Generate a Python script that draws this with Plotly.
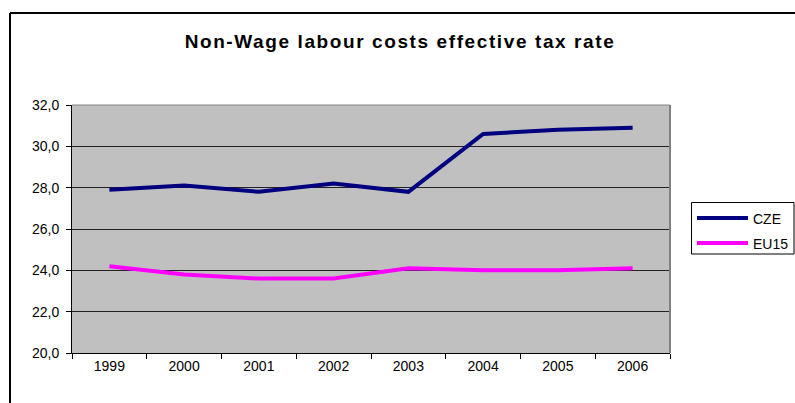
import plotly.graph_objects as go

# Non-wage labour costs: effective tax rate (%)
years = ["1999", "2000", "2001", "2002", "2003", "2004", "2005", "2006"]
cze = [27.9, 28.1, 27.8, 28.2, 27.8, 30.6, 30.8, 30.9]
eu15 = [24.2, 23.8, 23.6, 23.6, 24.1, 24.0, 24.0, 24.1]
y_ticks = [20, 22, 24, 26, 28, 30, 32]
series_names = ["CZE", "EU15"]
series_colors = ["#000080", "#FF00FF"]

W, H = 795, 403
L, R, T, B = 72, 125, 105, 50
pw, ph = W - L - R, H - T - B


def px_x(p):
    return (p - L) / pw


def px_y(p):
    return (H - B - p) / ph


FONT = "Liberation Sans, Arial, sans-serif"

fig = go.Figure()
for name, vals, col in zip(series_names, [cze, eu15], series_colors):
    fig.add_trace(go.Scatter(x=years, y=vals, name=name, mode="lines",
                             line=dict(color=col, width=4), showlegend=False))

fig.update_layout(
    width=W, height=H,
    margin=dict(l=L, r=R, t=T, b=B, pad=0),
    paper_bgcolor="white",
    plot_bgcolor="#C0C0C0",
    separators=", ",
    font=dict(family=FONT, size=14, color="black"),
    title=dict(text='<span style="letter-spacing:1.6px"><b>Non-Wage labour costs effective tax rate</b></span>',
               font=dict(family=FONT, size=19, color="black"),
               x=400 / W, xanchor="center", xref="container",
               y=1 - 41 / H, yanchor="middle", yref="container"),
)

fig.update_xaxes(
    type="category", range=[-0.5, len(years) - 0.5],
    showgrid=False, zeroline=False,
    showline=True, linecolor="black", linewidth=1,
    ticks="outside", tickson="boundaries", ticklen=5, tickcolor="black",
    tickfont=dict(family=FONT, size=14, color="black"),
)
fig.update_yaxes(
    range=[20, 32], tickvals=y_ticks, tickformat=".1f",
    showgrid=True, gridcolor="#222222", gridwidth=1, zeroline=False,
    showline=True, linecolor="black", linewidth=1,
    ticks="outside", ticklen=5, tickcolor="black",
    ticklabelstandoff=4,
    tickfont=dict(family=FONT, size=14, color="black"),
)

# plot-area frame: grey top and right edges
fig.add_shape(type="line", xref="paper", yref="paper", x0=0, x1=1, y0=1, y1=1,
              line=dict(color="#808080", width=1), layer="above")
fig.add_shape(type="line", xref="paper", yref="paper", x0=1, x1=1, y0=0, y1=1,
              line=dict(color="#808080", width=2), layer="above")

# chart-area border (left and top)
fig.add_shape(type="line", xref="paper", yref="paper",
              x0=px_x(10), x1=px_x(10), y0=px_y(13), y1=px_y(410),
              line=dict(color="black", width=2))
fig.add_shape(type="line", xref="paper", yref="paper",
              x0=px_x(10), x1=px_x(800), y0=px_y(13), y1=px_y(13),
              line=dict(color="black", width=2))

# legend box with line samples
fig.add_shape(type="rect", xref="paper", yref="paper",
              x0=px_x(691.5), x1=px_x(794), y0=px_y(202.5), y1=px_y(254),
              line=dict(color="black", width=1), fillcolor="white")
for i, (name, col) in enumerate(zip(series_names, series_colors)):
    yy = 218 + 25 * i
    fig.add_shape(type="line", xref="paper", yref="paper",
                  x0=px_x(697), x1=px_x(748), y0=px_y(yy), y1=px_y(yy),
                  line=dict(color=col, width=4))
    fig.add_annotation(xref="paper", yref="paper", x=px_x(751), y=px_y(yy + 1),
                       text=name, showarrow=False, xanchor="left", yanchor="middle",
                       font=dict(family=FONT, size=14, color="black"))

fig.write_html("out.html")
